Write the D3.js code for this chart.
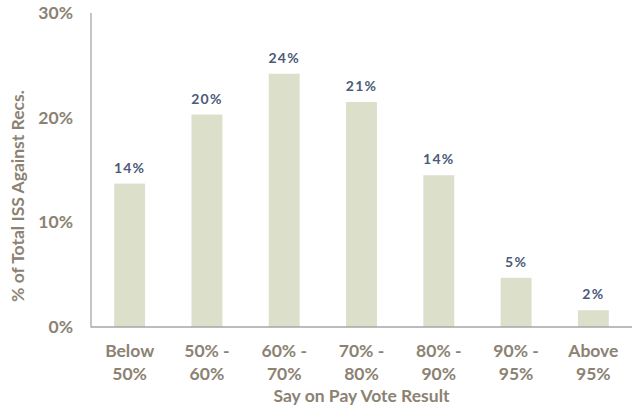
<!DOCTYPE html>
<html><head><meta charset="utf-8">
<script src="https://cdn.jsdelivr.net/npm/d3@7"></script>
<style>
body{margin:0;background:#fff;}
svg text{font-family:Lato,"Open Sans",sans-serif;font-weight:bold;}
</style></head>
<body><svg id="c" width="636" height="409"></svg>
<script>
const categories = [["Below","50%"],["50% -","60%"],["60% -","70%"],["70% -","80%"],["80% -","90%"],["90% -","95%"],["Above","95%"]];
const values = [13.7, 20.3, 24.2, 21.5, 14.5, 4.7, 1.6];
const labels = ["14%","20%","24%","21%","14%","5%","2%"];
const yTicks = [0, 10, 20, 30];
const yTitle = "% of Total ISS Against Recs.";
const xTitle = "Say on Pay Vote Result";

(function(){
const svg = d3.select("#c");
const mL = 91, mR = 632, mT = 13, mB = 327;
const axisColor = "#8c8273";

const x = d3.scaleBand().domain(d3.range(categories.length)).range([mL, mR]).paddingInner(0.6).paddingOuter(0.3);
const y = d3.scaleLinear().domain([0, 30]).range([mB, mT]);

svg.selectAll("rect.bar").data(values).enter().append("rect")
  .attr("class","bar")
  .attr("x",(d,i)=>x(i)).attr("width",x.bandwidth())
  .attr("y",d=>y(d)).attr("height",d=>y(0)-y(d))
  .attr("fill","#dcdfca");

svg.selectAll("text.val").data(values).enter().append("text")
  .attr("class","val")
  .attr("x",(d,i)=>x(i)+x.bandwidth()/2)
  .attr("y",d=>y(d)-11)
  .attr("text-anchor","middle")
  .attr("font-size",14).attr("letter-spacing",1.2)
  .attr("fill","#4b5a78")
  .text((d,i)=>labels[i]);

svg.append("line").attr("x1",mL).attr("x2",mL).attr("y1",mT).attr("y2",mB+0.5)
  .attr("stroke","#a6a6a6").attr("stroke-width",1.3);
svg.append("line").attr("x1",mL).attr("x2",mR).attr("y1",mB).attr("y2",mB)
  .attr("stroke","#a6a6a6").attr("stroke-width",1.3);

const yAxis = d3.axisLeft(y).tickValues(yTicks).tickFormat(d=>d+"%").tickSize(0).tickPadding(18);
const gy = svg.append("g").attr("transform",`translate(${mL},0)`).call(yAxis);
gy.select(".domain").remove();
gy.selectAll("text").attr("font-size",17.5).attr("fill",axisColor)
  .style("font-family","Lato, sans-serif").style("font-weight","bold");

const xAxis = d3.axisBottom(x).tickSize(0).tickFormat("");
const gx = svg.append("g").attr("transform",`translate(0,${mB})`).call(xAxis);
gx.select(".domain").remove();
gx.selectAll(".tick").each(function(d){
  const t = d3.select(this).append("text").attr("text-anchor","middle")
    .attr("font-size",17.5).attr("fill",axisColor);
  t.append("tspan").attr("x",0).attr("y",30).text(categories[d][0]);
  t.append("tspan").attr("x",0).attr("y",53).text(categories[d][1]);
});

svg.append("text").attr("x",(mL+mR)/2).attr("y",402).attr("text-anchor","middle")
  .attr("font-size",17.5).attr("fill",axisColor).text(xTitle);

svg.append("text").attr("transform",`translate(24,${(mT+mB)/2 + 26}) rotate(-90)`)
  .attr("text-anchor","middle").attr("font-size",17.5).attr("fill",axisColor).text(yTitle);
})();
</script></body></html>
